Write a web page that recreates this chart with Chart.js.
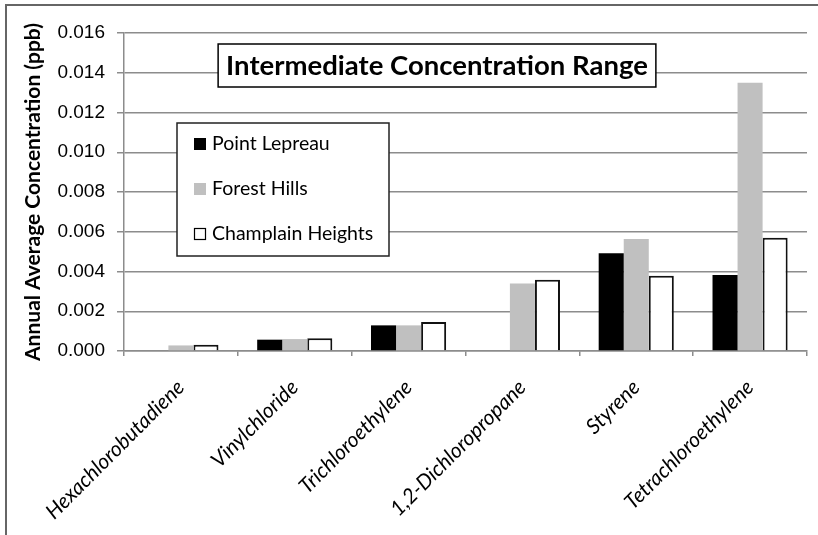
<!DOCTYPE html>
<html lang="en">
<head>
<meta charset="UTF-8">
<title>Intermediate Concentration Range</title>
<script src="https://cdn.jsdelivr.net/npm/chart.js"></script>
<style>
    body { margin: 0; background: #fff; }
    .chart-container { width: 818px; height: 535px; position: relative; }
</style>
</head>
<body>
<div class="chart-container"><canvas id="concChart"></canvas></div>
<script>
const compounds = ['Hexachlorobutadiene', 'Vinylchloride', 'Trichloroethylene', '1,2-Dichloropropane', 'Styrene', 'Tetrachloroethylene'];
const pointLepreau = [0, 0.00057, 0.00129, 0, 0.00492, 0.00382];
const forestHills = [0.00028, 0.00060, 0.00129, 0.00340, 0.00564, 0.01350];
const champlainHeights = [0.00032, 0.00064, 0.00146, 0.00359, 0.00379, 0.00570];
const seriesNames = ['Point Lepreau', 'Forest Hills', 'Champlain Heights'];
const chartTitle = 'Intermediate Concentration Range';
const yTitle = 'Annual Average Concentration (ppb)';

const gridGray = '#8c8c8c';

// title box + legend box drawn inside the plot, plus the frame on the left/top
const boxesPlugin = {
    id: 'boxes',
    beforeDraw(chart) {
        const ctx = chart.ctx;
        ctx.save();
        ctx.strokeStyle = '#666';
        ctx.lineWidth = 2;
        ctx.beginPath();
        ctx.moveTo(6, chart.height);
        ctx.lineTo(6, 5);
        ctx.lineTo(chart.width, 5);
        ctx.stroke();
        ctx.restore();
    },
    afterDraw(chart) {
        const ctx = chart.ctx;
        const area = chart.chartArea;
        ctx.save();

        // title
        ctx.font = 'bold 27.5px Lato';
        const tw = ctx.measureText(chartTitle).width;
        const cx = area.left + 313;
        const ty = area.top + 11;
        ctx.fillStyle = '#fff';
        ctx.fillRect(cx - tw / 2 - 8, ty, tw + 16, 43);
        ctx.strokeStyle = '#000';
        ctx.lineWidth = 1.5;
        ctx.strokeRect(cx - tw / 2 - 8, ty, tw + 16, 43);
        ctx.fillStyle = '#000';
        ctx.textAlign = 'center';
        ctx.textBaseline = 'middle';
        ctx.fillText(chartTitle, cx, ty + 22);

        // legend
        const lx = area.left + 53, ly = area.top + 90;
        ctx.fillStyle = '#fff';
        ctx.fillRect(lx, ly, 212, 133);
        ctx.strokeStyle = '#222';
        ctx.strokeRect(lx, ly, 212, 133);
        ctx.font = '19.5px Lato';
        ctx.textAlign = 'left';
        chart.data.datasets.forEach((ds, i) => {
            const yy = ly + 21 + i * 45;
            ctx.fillStyle = ds.backgroundColor;
            ctx.fillRect(lx + 17, yy - 6, 12, 12);
            if (ds.borderWidth) {
                ctx.strokeStyle = '#000';
                ctx.lineWidth = 1.2;
                ctx.strokeRect(lx + 17.5, yy - 5.5, 11, 11);
            }
            ctx.fillStyle = '#000';
            ctx.fillText(ds.label, lx + 35, yy);
        });
        ctx.restore();
    }
};

const ctx = document.getElementById('concChart').getContext('2d');
const concChart = new Chart(ctx, {
    type: 'bar',
    data: {
        labels: compounds,
        datasets: [
            { label: seriesNames[0], data: pointLepreau, backgroundColor: '#000000', borderWidth: 0 },
            { label: seriesNames[1], data: forestHills, backgroundColor: '#c0c0c0', borderWidth: 0 },
            { label: seriesNames[2], data: champlainHeights, backgroundColor: '#ffffff', borderColor: '#111', borderWidth: 2 }
        ]
    },
    options: {
        responsive: true,
        maintainAspectRatio: false,
        animation: false,
        datasets: { bar: { categoryPercentage: 0.66, barPercentage: 1.0 } },
        layout: { padding: { top: 33, right: 11, left: 0, bottom: 0 } },
        plugins: {
            legend: { display: false },
            title: { display: false },
            tooltip: { enabled: false }
        },
        scales: {
            x: {
                afterFit: s => { s.height = 184; },
                grid: { drawOnChartArea: false, color: gridGray, lineWidth: 1.5, tickLength: 5 },
                border: { color: gridGray, width: 1.5 },
                ticks: {
                    maxRotation: 45, minRotation: 45,
                    color: '#000',
                    padding: 19,
                    font: { family: 'Lato', size: 21, style: 'italic' }
                }
            },
            y: {
                min: 0, max: 0.016,
                afterFit: s => { s.width = 124; },
                grid: { color: gridGray, lineWidth: 1.5, tickLength: 7 },
                border: { color: gridGray, width: 1.5 },
                ticks: {
                    stepSize: 0.002,
                    color: '#000',
                    padding: 12,
                    font: { family: 'Liberation Sans', size: 19 },
                    callback: v => v.toFixed(3)
                },
                title: {
                    display: true,
                    text: yTitle,
                    color: '#000',
                    padding: { top: 21, bottom: 0 },
                    font: { family: 'Lato', size: 21, weight: 'bold' }
                }
            }
        }
    },
    plugins: [boxesPlugin]
});
</script>
</body>
</html>
